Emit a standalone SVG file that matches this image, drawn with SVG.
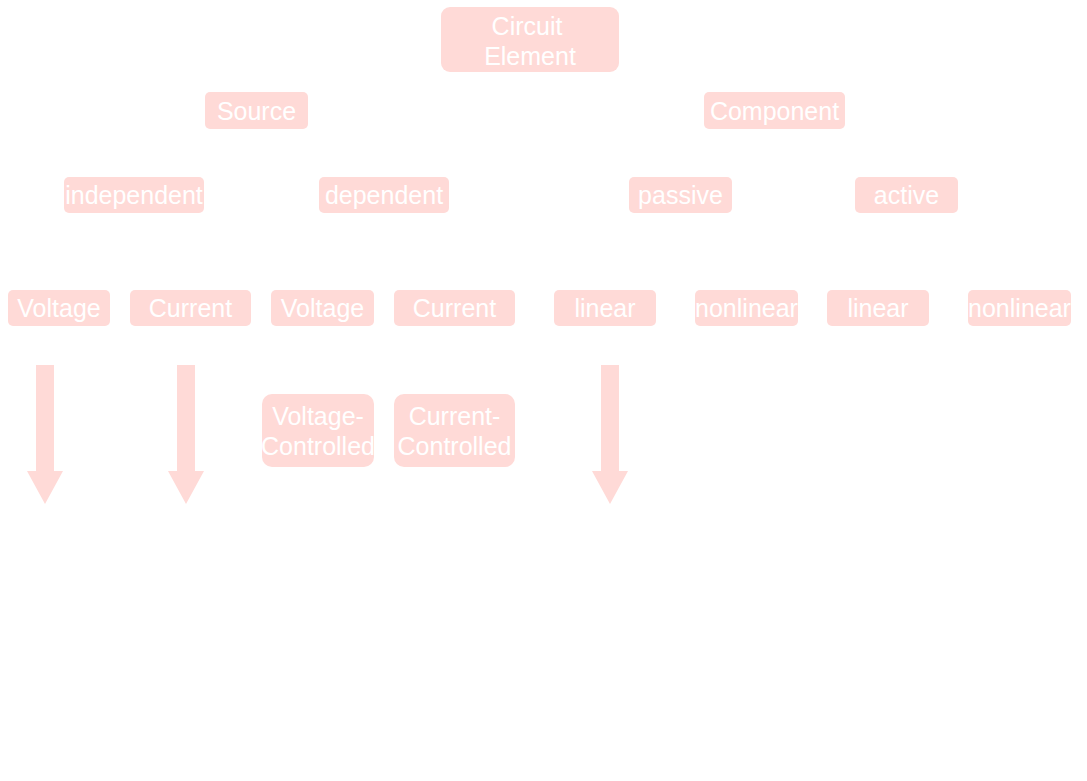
<svg xmlns="http://www.w3.org/2000/svg" width="1087" height="781" viewBox="0 0 1087 781">
<style>
.b{fill:#FFDAD7;}
.t{fill:#FFFFFF;font-family:"Liberation Sans",Arial,sans-serif;font-size:25px;text-anchor:middle;dominant-baseline:central;}
.a{fill:#FFDAD7;}
</style>
<rect width="1087" height="781" fill="#FFFFFF"/>
<g id="circuit-element"><rect class="b" x="441" y="7" width="178" height="65" rx="9"/><text class="t" x="527" y="26">Circuit</text><text class="t" x="530" y="56">Element</text></g>
<g id="source"><rect class="b" x="205" y="92" width="103" height="37" rx="5"/><text class="t" x="256.5" y="111">Source</text></g>
<g id="component"><rect class="b" x="704" y="92" width="141" height="37" rx="5"/><text class="t" x="774.5" y="111">Component</text></g>
<g id="independent"><rect class="b" x="64" y="177" width="140" height="36" rx="5"/><text class="t" x="134" y="195">independent</text></g>
<g id="dependent"><rect class="b" x="319" y="177" width="130" height="36" rx="5"/><text class="t" x="384" y="195">dependent</text></g>
<g id="passive"><rect class="b" x="629" y="177" width="103" height="36" rx="5"/><text class="t" x="680.5" y="195">passive</text></g>
<g id="active"><rect class="b" x="855" y="177" width="103" height="36" rx="5"/><text class="t" x="906.5" y="195">active</text></g>
<g id="ind-voltage"><rect class="b" x="8" y="290" width="102" height="36" rx="5"/><text class="t" x="59" y="308">Voltage</text></g>
<g id="ind-current"><rect class="b" x="130" y="290" width="121" height="36" rx="5"/><text class="t" x="190.5" y="308">Current</text></g>
<g id="dep-voltage"><rect class="b" x="271" y="290" width="103" height="36" rx="5"/><text class="t" x="322.5" y="308">Voltage</text></g>
<g id="dep-current"><rect class="b" x="394" y="290" width="121" height="36" rx="5"/><text class="t" x="454.5" y="308">Current</text></g>
<g id="passive-linear"><rect class="b" x="554" y="290" width="102" height="36" rx="5"/><text class="t" x="605" y="308">linear</text></g>
<g id="passive-nonlinear"><rect class="b" x="695" y="290" width="103" height="36" rx="5"/><text class="t" x="746.5" y="308">nonlinear</text></g>
<g id="active-linear"><rect class="b" x="827" y="290" width="102" height="36" rx="5"/><text class="t" x="878" y="308">linear</text></g>
<g id="active-nonlinear"><rect class="b" x="968" y="290" width="103" height="36" rx="5"/><text class="t" x="1019.5" y="308">nonlinear</text></g>
<g id="voltage-controlled"><rect class="b" x="262" y="394" width="112" height="73" rx="10"/><text class="t" x="318" y="416">Voltage-</text><text class="t" x="318" y="446">Controlled</text></g>
<g id="current-controlled"><rect class="b" x="394" y="394" width="121" height="73" rx="10"/><text class="t" x="454.5" y="416">Current-</text><text class="t" x="454.5" y="446">Controlled</text></g>
<g id="connectors">
<polygon class="a" points="36,365 54,365 54,471 63,471 45,504 27,471 36,471"/>
<polygon class="a" points="177,365 195,365 195,471 204,471 186,504 168,471 177,471"/>
<polygon class="a" points="601,365 619,365 619,471 628,471 610,504 592,471 601,471"/>
</g>
</svg>
